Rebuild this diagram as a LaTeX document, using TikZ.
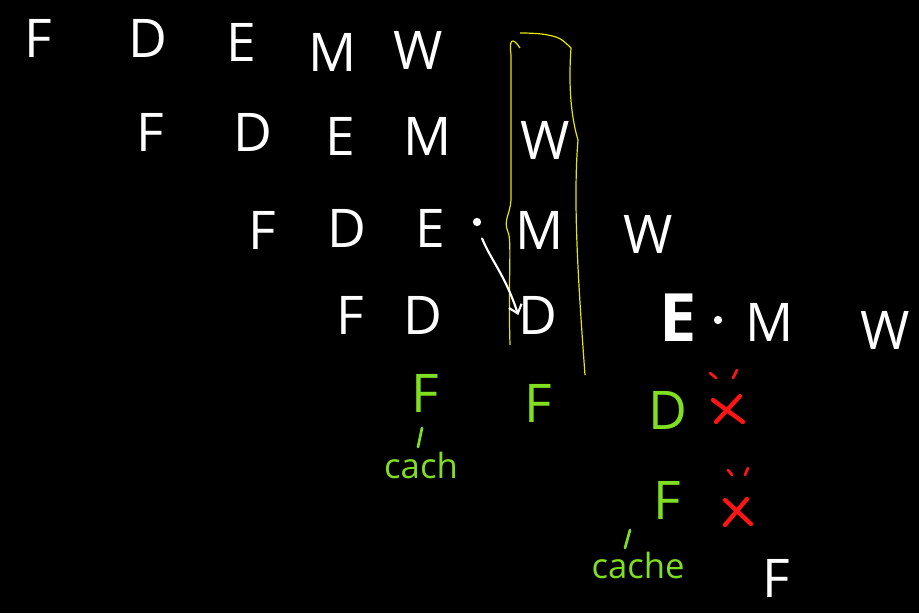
\documentclass[tikz,border=0pt]{standalone}
\usepackage{fontspec}
\setmainfont{Open Sans}
\setsansfont{Open Sans}
\usetikzlibrary{arrows.meta}
\definecolor{chalkgreen}{HTML}{80E020}
\definecolor{chalkred}{HTML}{FF1414}
\definecolor{chalkyellow}{HTML}{E6E600}
\tikzset{
  lt/.style={text=white, inner sep=0pt, font=\fontsize{40}{40}\selectfont\sffamily},
  gt/.style={lt, text=chalkgreen},
  gsmall/.style={text=chalkgreen, inner sep=0pt, font=\fontsize{26}{26}\selectfont\sffamily},
  redx/.style={draw=chalkred, line width=3.2pt, line cap=round},
  redmark/.style={draw=chalkred, line width=2pt, line cap=round},
  gmark/.style={draw=chalkgreen, line width=2pt, line cap=round},
  ybox/.style={draw=chalkyellow, line width=0.9pt},
}
\begin{document}
\begin{tikzpicture}[x=0.75pt,y=-0.75pt]
\fill[black] (0,0) rectangle (919,613);
\useasboundingbox (0,0) rectangle (919,613);
% yellow box
\draw[ybox] (520,48) .. controls (512,36) and (509,40) .. (511,55)
  -- (511,200) .. controls (510,215) and (503,220) .. (508,232)
  .. controls (512,240) and (508,280) .. (510,345);
\draw[ybox] (520,33) .. controls (540,33) and (555,35) .. (562,40)
  .. controls (567,44) and (569,46) .. (571,48)
  .. controls (568,90) and (572,120) .. (578,140)
  .. controls (573,200) and (578,280) .. (585,375);
% row 1
\node[lt] (f1) at (38,38) {F};
\node[lt] (d1) at (148,38) {D};
\node[lt] (e1) at (241,42) {E};
\node[lt] (m1) at (333,52) {M};
\node[lt] (w1) at (418,50) {W};
% row 2
\node[lt] (f2) at (150,132) {F};
\node[lt] (d2) at (253,132) {D};
\node[lt] (e2) at (340,136) {E};
\node[lt] (m2) at (428,136) {M};
\node[lt] (w2) at (545,140) {W};
% row 3
\node[lt] (f3) at (262,230) {F};
\node[lt] (d3) at (347,228) {D};
\node[lt] (e3) at (430,228) {E};
\node[fill=white, circle, inner sep=2.2pt] (dot3) at (477,222) {};
\node[lt] (m3) at (540,230) {M};
\node[lt] (w3) at (648,234) {W};
% row 4
\node[lt] (f4) at (350,315) {F};
\node[lt] (d4) at (423,315) {D};
\node[lt] (d4b) at (538,315) {D};
\node[lt, font=\fontsize{50}{50}\selectfont\sffamily\bfseries] (e4) at (678,318) {E};
\node[fill=white, circle, inner sep=2.2pt] (dot4) at (718,320) {};
\node[lt] (m4) at (770,322) {M};
\node[lt] (w4) at (885,330) {W};
% arrow from dot to D
\draw[white, line width=1.6pt, line cap=round, -{Straight Barb[length=6pt,width=10pt]}]
  (dot3.south) ++(5,12) .. controls (492,262) and (505,275) .. (d4b.west);
% green row
\node[gt] (gf1) at (425,393) {F};
\node[gt] (gf2) at (538,403) {F};
\node[gt] (gd) at (668,410) {D};
\node[gt] (gf3) at (667,500) {F};
\node[gsmall] (cach) at (421,465) {cach};
\node[gsmall] (cache) at (638,565) {cache};
\coordinate (acc1a) at (422,428);
\coordinate (acc1b) at (418,447);
\draw[gmark] (acc1a) -- (acc1b);
\coordinate (acc2a) at (630,530);
\coordinate (acc2b) at (625,548);
\draw[gmark] (acc2a) -- (acc2b);
% red crosses
\coordinate (x1c) at (728,410);
\draw[redx] (x1c) ++(-15,-10) -- ++(30,22);
\draw[redx] (x1c) ++(12,-14) -- ++(-24,26);
\draw[redmark] (710,373) -- (716,378);
\draw[redmark] (737,370) -- (733,378);
\coordinate (x2c) at (737,512);
\draw[redx] (x2c) ++(-12,-12) -- ++(26,24);
\draw[redx] (x2c) ++(10,-13) -- ++(-22,26);
\draw[redmark] (728,470) -- (732,475);
\draw[redmark] (748,468) -- (745,475);
% bottom white F
\node[lt] (f5) at (776,578) {F};
\end{tikzpicture}
\end{document}
